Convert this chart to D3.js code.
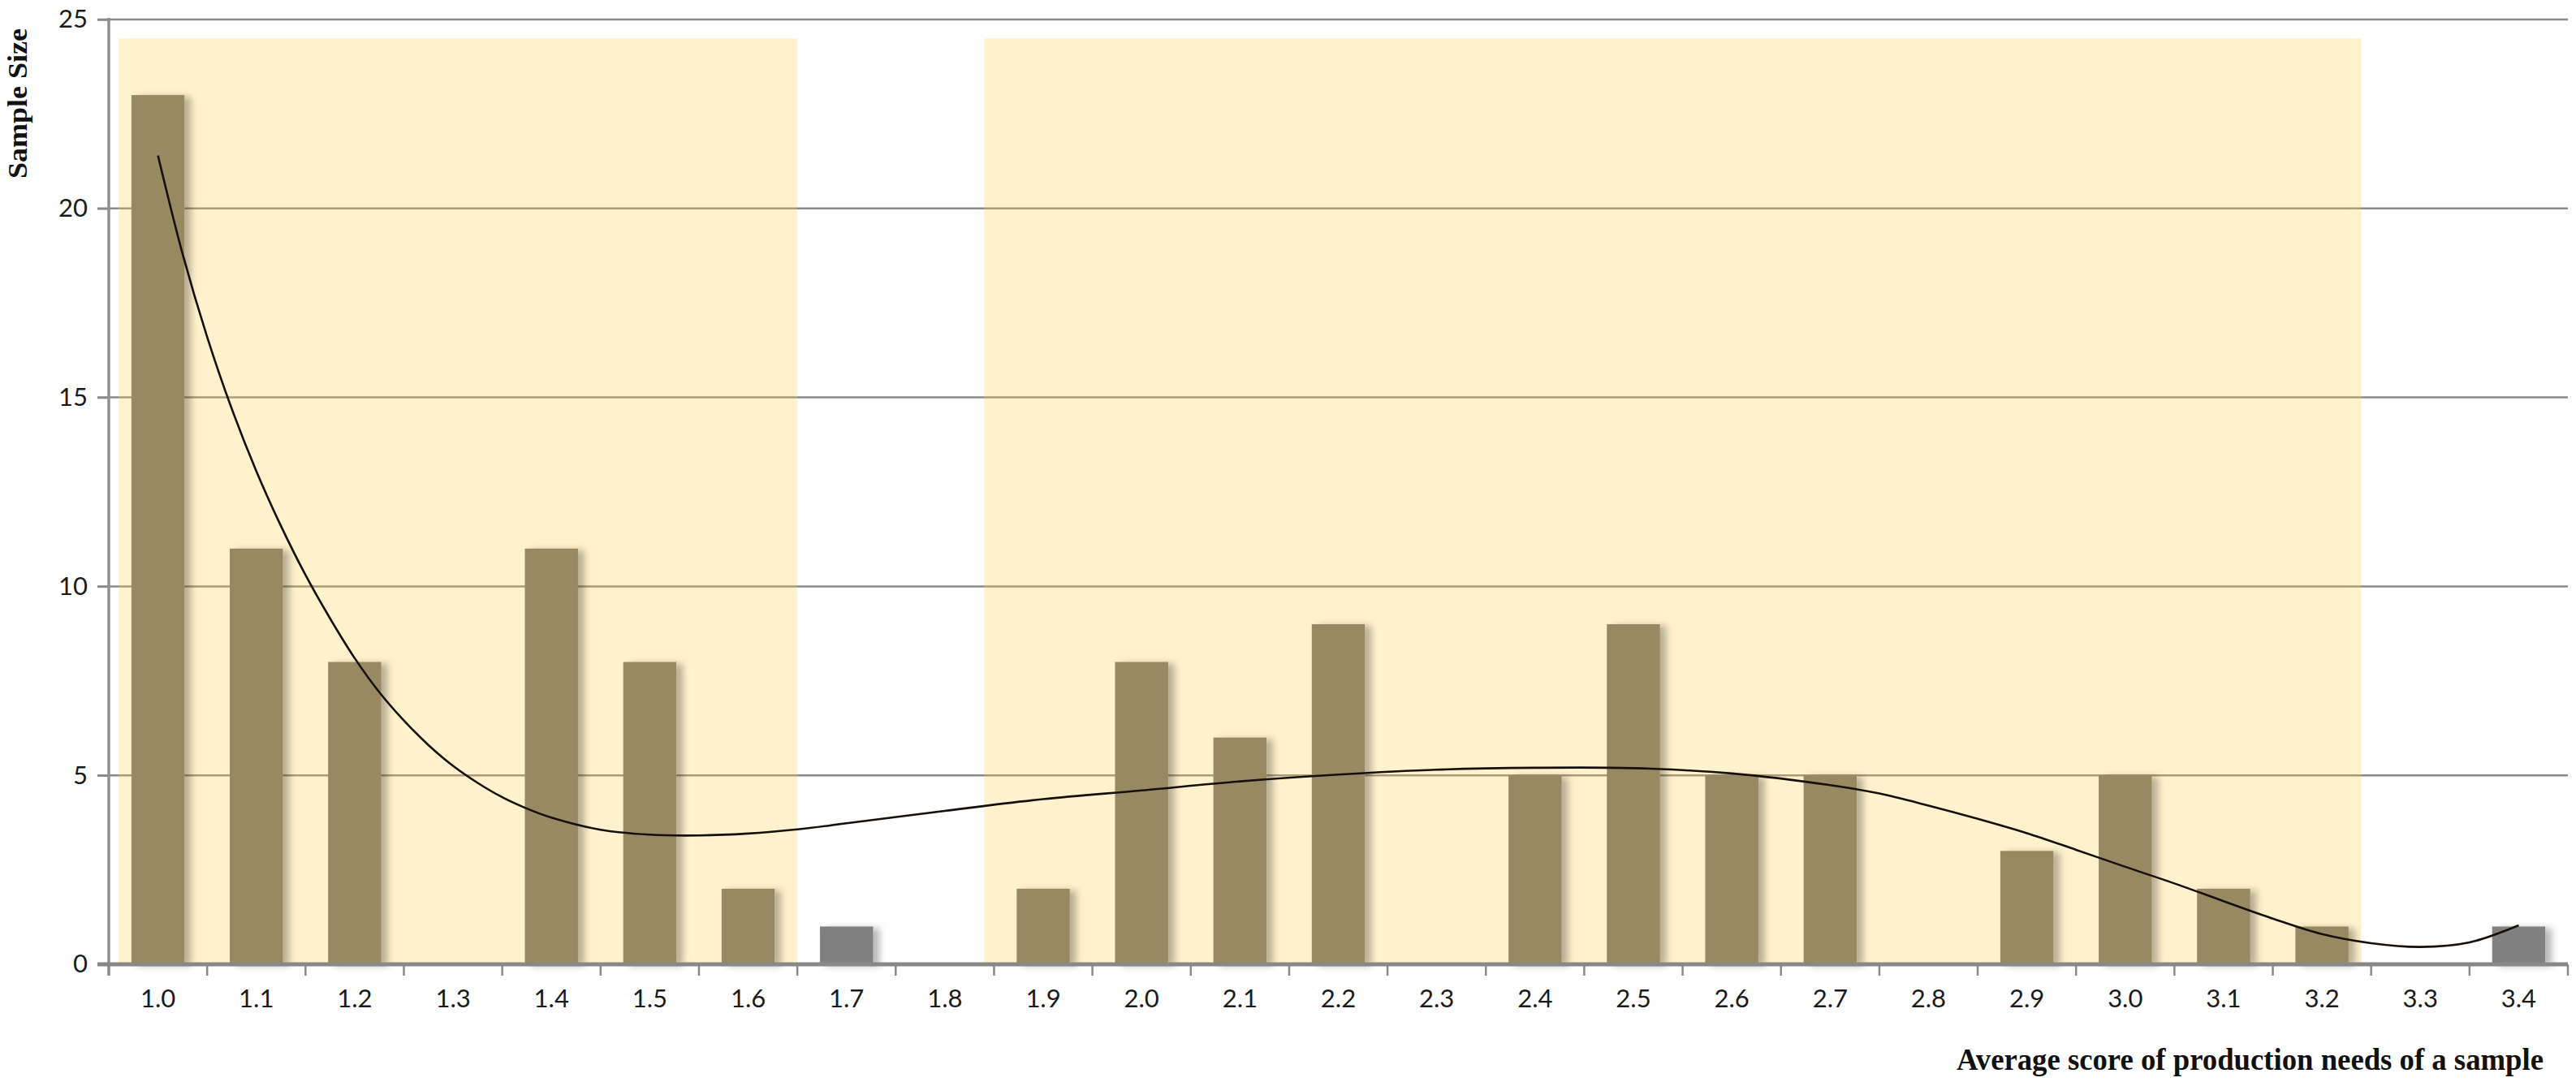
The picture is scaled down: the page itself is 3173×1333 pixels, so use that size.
<!DOCTYPE html>
<html>
<head>
<meta charset="utf-8">
<script src="https://cdn.jsdelivr.net/npm/d3@7"></script>
<style>
  html, body { margin: 0; padding: 0; background: #ffffff; }
  svg { display: block; }
</style>
</head>
<body>
<div id="chart"></div>
<script>
// ---------------- data ----------------
const categories = ["1.0","1.1","1.2","1.3","1.4","1.5","1.6","1.7","1.8","1.9","2.0","2.1","2.2","2.3","2.4","2.5","2.6","2.7","2.8","2.9","3.0","3.1","3.2","3.3","3.4"];
const sampleSize = [23,11,8,0,11,8,2,1,0,2,8,6,9,0,5,9,5,5,0,3,5,2,1,0,1];
// categories shown in grey (outside the highlighted ranges)
const greyCategories = ["1.7","3.4"];
// highlighted score ranges [from, to]
const highlightRanges = [[0.96, 1.65], [1.84, 3.24]];
const highlightTop = 24.5;
// trend line: score -> sample size
const trendScore = [1.000,1.025,1.050,1.075,1.100,1.125,1.150,1.175,1.200,1.225,1.250,1.275,1.300,1.325,1.350,1.375,1.400,1.45,1.50,1.55,1.60,1.65,1.70,1.80,1.90,2.00,2.10,2.20,2.30,2.40,2.50,2.60,2.70,2.75,2.80,2.85,2.90,2.95,3.00,3.05,3.10,3.15,3.20,3.25,3.30,3.35,3.40];
const trendValue = [21.4,18.8,16.6,14.7,13.05,11.6,10.3,9.15,8.1,7.2,6.45,5.8,5.25,4.8,4.42,4.12,3.88,3.56,3.43,3.41,3.46,3.57,3.73,4.06,4.37,4.6,4.84,5.02,5.15,5.2,5.19,5.05,4.74,4.52,4.2,3.85,3.47,3.03,2.58,2.14,1.67,1.21,0.8,0.56,0.46,0.58,1.03];
const yTicks = [0,5,10,15,20,25];
const xTitle = "Average score of production needs of a sample";
const yTitle = "Sample Size";

// ---------------- layout ----------------
const W = 3173, H = 1333;
const mLeft = 134, mRight = 3163, mTop = 24, mBottom = 1188;

const svg = d3.select("#chart").append("svg")
  .attr("width", W).attr("height", H)
  .attr("viewBox", `0 0 ${W} ${H}`);

const defs = svg.append("defs");
const f = defs.append("filter").attr("id", "shadow")
  .attr("x", "-20%").attr("y", "-10%").attr("width", "160%").attr("height", "130%");
f.append("feDropShadow").attr("dx", 8).attr("dy", 2).attr("stdDeviation", 4)
  .attr("flood-color", "#000").attr("flood-opacity", 0.28);

const xCat = d3.scaleBand().domain(categories).range([mLeft, mRight]).padding(0);
const xBar = d3.scaleBand().domain(categories).range([mLeft, mRight])
  .paddingInner(0.46).paddingOuter(0.23);
const y = d3.scaleLinear().domain([0, 25]).range([mBottom, mTop]);
const xLin = d3.scaleLinear().domain([1.0, 3.4])
  .range([xCat("1.0") + xCat.bandwidth() / 2, xCat("3.4") + xCat.bandwidth() / 2]);

// gridlines
svg.append("g").selectAll("line").data(yTicks.filter(d => d > 0)).join("line")
  .attr("x1", mLeft - 14).attr("x2", mRight)
  .attr("y1", d => y(d)).attr("y2", d => y(d))
  .attr("stroke", "#8a8a8a").attr("stroke-width", 2.5);

// highlighted ranges
svg.append("g").selectAll("rect").data(highlightRanges).join("rect")
  .attr("x", d => xLin(d[0])).attr("width", d => xLin(d[1]) - xLin(d[0]))
  .attr("y", y(highlightTop)).attr("height", mBottom - y(highlightTop))
  .attr("fill", "#ffcf42").attr("fill-opacity", 0.27);

// bars
svg.append("g").selectAll("rect").data(categories.map((c, i) => ({c, v: sampleSize[i]})).filter(d => d.v > 0)).join("rect")
  .attr("x", d => xBar(d.c)).attr("width", xBar.bandwidth())
  .attr("y", d => y(d.v)).attr("height", d => mBottom - y(d.v))
  .attr("fill", d => greyCategories.includes(d.c) ? "#808080" : "#978a62")
  .attr("filter", "url(#shadow)");

// trend line
const line = d3.line().x(d => xLin(d[0])).y(d => y(d[1])).curve(d3.curveCatmullRom.alpha(0.5));
svg.append("path").datum(trendScore.map((s, i) => [s, trendValue[i]]))
  .attr("d", line).attr("fill", "none")
  .attr("stroke", "#15100a").attr("stroke-width", 2.6);

// y axis
const yAxis = svg.append("g").attr("transform", `translate(${mLeft},0)`)
  .call(d3.axisLeft(y).tickValues(yTicks).tickSize(14).tickPadding(12).tickFormat(d3.format("d")));
yAxis.select(".domain").remove();
yAxis.selectAll(".tick line").attr("stroke", "#8a8a8a").attr("stroke-width", 2.5);
yAxis.selectAll("text").attr("font-family", "Lato, 'Open Sans', sans-serif")
  .attr("font-size", 31).attr("fill", "#1a1a1a");
svg.append("line").attr("x1", mLeft).attr("x2", mLeft).attr("y1", mTop - 2).attr("y2", mBottom + 14)
  .attr("stroke", "#8f8f8f").attr("stroke-width", 3.5);

// x axis
const xAxis = svg.append("g").attr("transform", `translate(0,${mBottom})`)
  .call(d3.axisBottom(xCat).tickSize(0).tickPadding(31));
xAxis.select(".domain").remove();
xAxis.selectAll("text").attr("font-family", "Lato, 'Open Sans', sans-serif")
  .attr("font-size", 31).attr("fill", "#1a1a1a");
const bounds = categories.map(c => xCat(c)).concat([mRight]);
svg.append("g").selectAll("line").data(bounds).join("line")
  .attr("x1", d => d).attr("x2", d => d)
  .attr("y1", mBottom).attr("y2", mBottom + 14)
  .attr("stroke", "#8a8a8a").attr("stroke-width", 2.5);
svg.append("line").attr("x1", mLeft - 14).attr("x2", mRight).attr("y1", mBottom).attr("y2", mBottom)
  .attr("stroke", "#888888").attr("stroke-width", 5);

// titles
svg.append("text").attr("x", 2410).attr("y", 1318)
  .attr("font-family", "'Liberation Serif', 'Times New Roman', serif")
  .attr("font-weight", "bold").attr("font-size", 38).attr("fill", "#111")
  .attr("textLength", 723).attr("lengthAdjust", "spacingAndGlyphs")
  .text(xTitle);
svg.append("text").attr("transform", "translate(33,220) rotate(-90)")
  .attr("font-family", "'Liberation Serif', 'Times New Roman', serif")
  .attr("font-weight", "bold").attr("font-size", 33).attr("fill", "#111")
  .attr("textLength", 185).attr("lengthAdjust", "spacingAndGlyphs")
  .text(yTitle);
</script>
</body>
</html>
